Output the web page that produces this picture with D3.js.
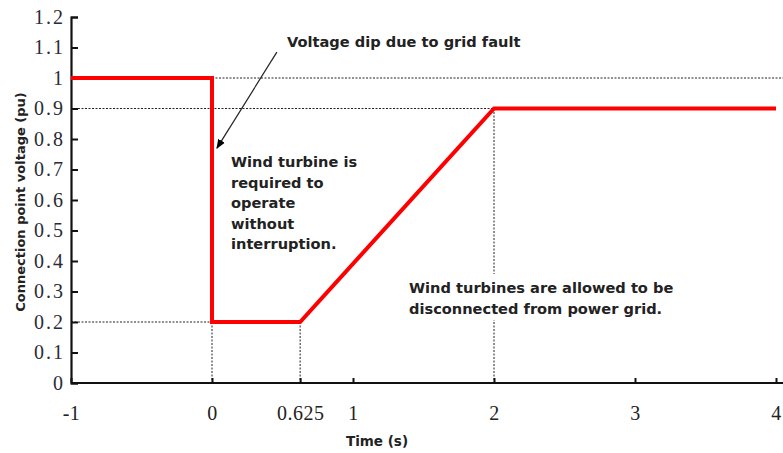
<!DOCTYPE html>
<html><head><meta charset="utf-8">
<script src="https://cdn.jsdelivr.net/npm/d3@7"></script>
<style>body{margin:0;background:#fff}svg{display:block}</style>
</head><body>
<svg id="c" width="783" height="453"></svg>
<script>
// Data
const curveTime    = [-1, 0, 0, 0.625, 2, 4];
const curveVoltage = [1, 1, 0.2, 0.2, 0.9, 0.9];
const yTickValues = [0, 0.1, 0.2, 0.3, 0.4, 0.5, 0.6, 0.7, 0.8, 0.9, 1, 1.1, 1.2];
const xTickValues = [-1, 0, 0.625, 1, 2, 3, 4];
const xTickLabels = ["-1", "0", "0.625", "1", "2", "3", "4"];
// guide lines [x1,y1,x2,y2] in data units
const guideLines = [
  [0, 1, 4.1, 1],
  [-1, 0.9, 2, 0.9],
  [-1, 0.2, 0, 0.2],
  [0, 0.2, 0, 0],
  [0.625, 0.2, 0.625, 0],
  [2, 0.9, 2, 0]
];
const annoTitle = "Voltage dip due to grid fault";
const annoMid = ["Wind turbine is", "required to", "operate", "without", "interruption."];
const annoRight = ["Wind turbines are allowed to be", "disconnected from power grid."];
const arrowFrom = [0.46, 1.085];
const arrowTo = [0.035, 0.77];

const svg = d3.select("#c");
const x = d3.scaleLinear().domain([-1, 4]).range([71, 776]);
const y = d3.scaleLinear().domain([0, 1.2]).range([383, 17]);

// defs
svg.append("defs").append("marker").attr("id","ah").attr("viewBox","0 0 10 10")
  .attr("refX",9).attr("refY",5).attr("markerWidth",8).attr("markerHeight",8)
  .attr("orient","auto").append("path").attr("d","M0,1 L10,5 L0,9 z").attr("fill","#000");

// guides
svg.append("g").selectAll("line").data(guideLines).join("line")
  .attr("x1", d => x(d[0])).attr("y1", d => y(d[1]))
  .attr("x2", d => x(d[2])).attr("y2", d => y(d[3]))
  .attr("stroke", "#222").attr("stroke-width", 1).attr("stroke-dasharray", "2,1.5");

// axes
const yAxis = d3.axisLeft(y).tickValues(yTickValues).tickSize(-7).tickPadding(6)
  .tickFormat(d3.format("~g"));
const gy = svg.append("g").attr("transform", `translate(${x(-1)},0)`).call(yAxis);
gy.select(".domain").attr("stroke","#111").attr("stroke-width",2.2);
gy.selectAll(".tick line").attr("stroke","#111").attr("stroke-width",2);
gy.selectAll(".tick text").attr("font-family","'Liberation Serif', serif").attr("font-size",20)
  .attr("letter-spacing","2px").attr("fill","#2b2b35");

const xAxis = d3.axisBottom(x).tickValues(xTickValues).tickSize(-5).tickPadding(23)
  .tickFormat((d,i) => xTickLabels[i]);
const gx = svg.append("g").attr("transform", `translate(0,${y(0)})`).call(xAxis);
gx.select(".domain").attr("d", `M${x(-1)},0H783`).attr("stroke","#111").attr("stroke-width",2.2);
gx.selectAll(".tick line").attr("stroke","#111").attr("stroke-width",2);
gx.selectAll(".tick text").attr("font-family","'Liberation Serif', serif").attr("font-size",20)
  .attr("letter-spacing","0.5px").attr("fill","#222");

// curve
const pts = curveTime.map((t,i) => [t, curveVoltage[i]]);
svg.append("path").datum(pts)
  .attr("d", d3.line().x(d => x(d[0])).y(d => y(d[1])))
  .attr("fill","none").attr("stroke","#ff0000").attr("stroke-width",4)
  .attr("stroke-linejoin","miter");

// arrow
svg.append("line").attr("x1", x(arrowFrom[0])).attr("y1", y(arrowFrom[1]))
  .attr("x2", x(arrowTo[0])).attr("y2", y(arrowTo[1]))
  .attr("stroke","#222").attr("stroke-width",1.2).attr("marker-end","url(#ah)");

const font = "'DejaVu Sans', Verdana, sans-serif";
const fs = 14.6;
// annotation texts
svg.append("text").attr("x",287).attr("y",47).text(annoTitle)
  .attr("font-family",font).attr("font-weight","bold").attr("font-size",fs).attr("fill","#222");

svg.append("g").selectAll("text").data(annoMid).join("text")
  .attr("x",231).attr("y",(d,i) => 167 + i*20.6).text(d => d)
  .attr("font-family",font).attr("font-weight","bold").attr("font-size",fs).attr("fill","#222");

svg.append("rect").attr("x",405).attr("y",274).attr("width",280).attr("height",46).attr("fill","#fff");
svg.append("g").selectAll("text").data(annoRight).join("text")
  .attr("x",409).attr("y",(d,i) => 293 + i*20.5).text(d => d)
  .attr("font-family",font).attr("font-weight","bold").attr("font-size",fs).attr("fill","#222");

// axis titles
svg.append("text").attr("x",377).attr("y",446).attr("text-anchor","middle").text("Time (s)")
  .attr("font-family",font).attr("font-weight","bold").attr("font-size",13.5).attr("fill","#222");
svg.append("text").attr("transform","translate(25,202) rotate(-90)").attr("text-anchor","middle")
  .text("Connection point voltage (pu)")
  .attr("font-family",font).attr("font-weight","bold").attr("font-size",13).attr("fill","#222");
</script>
</body></html>
